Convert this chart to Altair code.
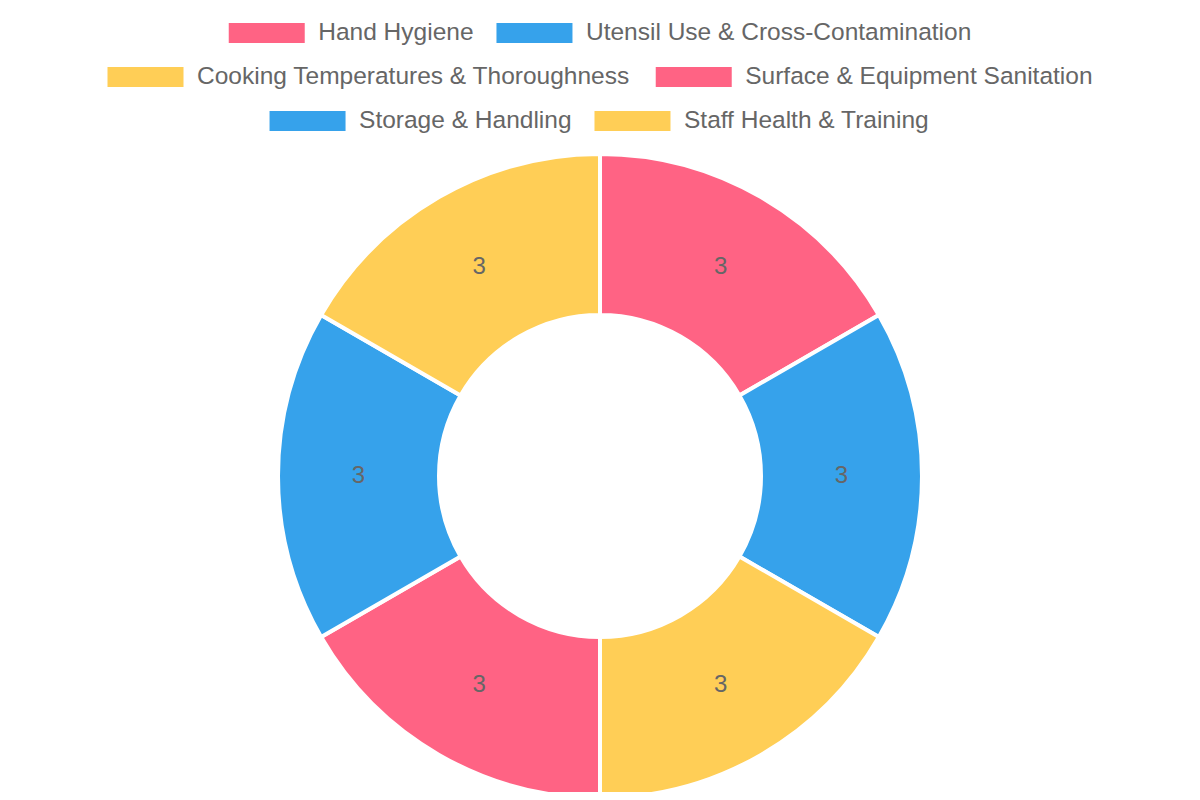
import altair as alt
import pandas as pd

# ---- data ----
categories = [
    "Hand Hygiene",
    "Utensil Use & Cross-Contamination",
    "Cooking Temperatures & Thoroughness",
    "Surface & Equipment Sanitation",
    "Storage & Handling",
    "Staff Health & Training",
]
values = [3, 3, 3, 3, 3, 3]
colors = ["#FF6384", "#36A2EB", "#FFCE56", "#FF6384", "#36A2EB", "#FFCE56"]
legend_rows = [[0, 1], [2, 3], [4, 5]]

# ---- layout constants ----
W, H = 1184, 784
CX, CY = 592, 468
R_OUT, R_IN = 322, 161
FS = 24.5
BOX_W, BOX_H = 76, 20
TEXT_GAP = 13.5
ITEM_GAP = 23
ROW_Y = [25, 69, 113]
FONT = "Liberation Sans, Arial, Helvetica, sans-serif"
TXT = "#666666"

# Arial advance widths (em) for legend layout
AW = {
    " ": .278, "&": .667, "-": .333,
    "C": .722, "E": .667, "H": .722, "S": .667, "T": .611, "U": .722,
    "a": .556, "c": .5, "d": .556, "e": .556, "g": .556, "h": .556, "i": .222,
    "k": .5, "l": .222, "m": .833, "n": .556, "o": .556, "p": .556, "q": .556,
    "r": .333, "s": .5, "t": .278, "u": .556, "y": .5, "f": .278,
}


def text_w(s):
    return sum(AW.get(ch, .556) for ch in s) * FS


leg = []
for r, idxs in enumerate(legend_rows):
    widths = [BOX_W + TEXT_GAP + text_w(categories[i]) for i in idxs]
    total = sum(widths) + ITEM_GAP * (len(idxs) - 1)
    x = CX - total / 2
    for i, w in zip(idxs, widths):
        leg.append({"cat": categories[i], "color": colors[i],
                    "bx": x, "bx2": x + BOX_W,
                    "by": ROW_Y[r] - BOX_H / 2, "by2": ROW_Y[r] + BOX_H / 2,
                    "tx": x + BOX_W + TEXT_GAP, "ty": ROW_Y[r]})
        x += w + ITEM_GAP
leg_df = pd.DataFrame(leg)

df = pd.DataFrame({"cat": categories, "value": values,
                   "order": list(range(len(categories)))})

color_scale = alt.Scale(domain=categories, range=colors)

base = alt.Chart(df).encode(
    theta=alt.Theta("value:Q", stack=True),
    order=alt.Order("order:Q"),
)

arcs = base.mark_arc(
    outerRadius=R_OUT, innerRadius=R_IN, stroke="white", strokeWidth=4
).encode(
    color=alt.Color("cat:N", scale=color_scale, legend=None),
    x=alt.value(CX), y=alt.value(CY),
)

labels = base.mark_text(
    radius=(R_OUT + R_IN) / 2, fontSize=24, font=FONT, color=TXT,
    align="center", baseline="middle",
).encode(
    text=alt.Text("value:Q"),
    x=alt.value(CX), y=alt.value(CY),
)

leg_base = alt.Chart(leg_df)
leg_boxes = leg_base.mark_rect().encode(
    x=alt.X("bx:Q", scale=None, axis=None), x2="bx2:Q",
    y=alt.Y("by:Q", scale=None, axis=None), y2="by2:Q",
    color=alt.Color("color:N", scale=None),
)
leg_text = leg_base.mark_text(
    align="left", baseline="middle", fontSize=FS, font=FONT, color=TXT,
).encode(
    x=alt.X("tx:Q", scale=None, axis=None),
    y=alt.Y("ty:Q", scale=None, axis=None),
    text="cat:N",
)

chart = alt.layer(arcs, labels, leg_boxes, leg_text).properties(
    width=W, height=H, padding=0,
    autosize=alt.AutoSizeParams(type="none"),
).configure_view(stroke=None).resolve_scale(color="independent")

chart.save("out.html", embed_options={"renderer": "svg", "actions": False})
